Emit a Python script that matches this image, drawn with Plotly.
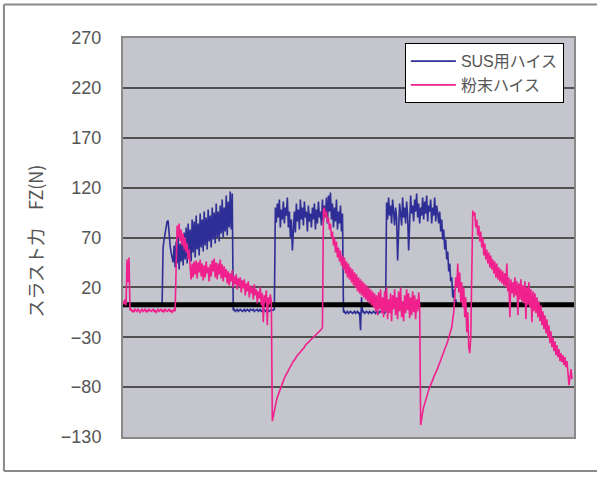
import plotly.graph_objects as go

# Thrust force FZ (N); one sample per time step
sus_values = [
    1, 2, 1, 2, 1, 2, 1, 2, 1, 2,
    2, 1, 2, 1, 2, 1, 2, 1, 2, 1,
    1, 2, 1, 2, 1, 2, 1, 2, 1, 2,
    2, 1, 2, 1, 2, 1, 2, 1, 2, 1,
    60, 68, 75, 80, 86, 87, 72, 62, 55, 50,
    45, 62, 40, 66, 44, 70, 38, 64, 46, 72,
    42, 75, 48, 80, 44, 84, 52, 78, 46, 88,
    55, 86, 50, 92, 58, 84, 52, 94, 60, 88,
    56, 96, 62, 90, 58, 98, 66, 92, 60, 100,
    68, 95, 64, 104, 70, 96, 66, 102, 74, 108,
    70, 100, 76, 112, 72, 106, 80, 116, 78, 114,
    -3, -2, -4, -3, -2, -4, -3, -2, -3, -4,
    -3, -2, -4, -3, -2, -3, -4, -2, -3, -3,
    -2, -4, -3, -3, -2, -4, -3, -2, -4, -3,
    -3, -2, -4, -3, -2, -3, -4, -3, -2, -3,
    -3, -2, 100, 85, 104, 90, 108, 80, 98, 88,
    106, 84, 100, 92, 110, 80, 96, 70, 88, 57,
    80, 96, 75, 104, 86, 98, 78, 108, 88, 100,
    82, 106, 90, 96, 76, 102, 86, 94, 80, 100,
    88, 104, 78, 98, 84, 106, 90, 96, 82, 108,
    86, 102, 92, 110, 84, 112, 96, 115, 88, 104,
    80, 100, 86, 108, 78, 96, 84, 102, 76, 94,
    -5, -4, -6, -5, -4, -6, -5, -4, -5, -6,
    -5, -4, -6, -5, -4, -6, -5, -23, 10, -5,
    -4, -6, -5, -4, -5, -6, -4, -5, -6, -5,
    -4, -5, -6, -4, -5, -6, -4, -5, -5, -4,
    -5, -6, -4, 105, 88, 110, 92, 102, 84, 108,
    96, 82, 100, 90, 47, 86, 104, 94, 82, 110,
    90, 100, 84, 106, 92, 57, 88, 112, 94, 102,
    86, 108, 96, 114, 90, 104, 84, 100, 92, 110,
    88, 106, 94, 112, 86, 102, 96, 108, 84, 100,
    92, 110, 86, 102, 94, 84, 96, 76, 88, 68,
    78, 58, 68, 48, 56, 36, 44, 26, 30, 10,
    18, 4, 8, 2, 2, 2, 2, 2, 2, 2,
    2, 2, 2, 2, 2, 2, 2, 2, 2, 2,
    2, 2, 2, 2, 2, 2, 2, 2, 2, 2,
    2, 2, 2, 2, 2, 2, 2, 2, 2, 2,
    2, 2, 2, 2, 2, 2, 2, 2, 2, 2,
    2, 2, 2, 2, 2, 2, 2, 2, 2, 2,
    2, 2, 2, 2, 2, 2, 2, 2, 2, 2,
    2, 2, 2, 2, 2, 2, 2, 2, 2, 2,
    2, 2, 2, 2, 2, 2, 2, 2, 2, 2,
    2, 2, 2, 2, 2, 2, 2, 2, 2, 2,
    2, 2, 2, 2, 2, 2, 2, 2, 2, 2,
    2, 2, 2, 2, 2, 2, 2, 2, 2,
]

powder_values = [
    6, 3, 8, 2, 48, 25, 50, -3, -2, -4,
    -3, -5, -2, -3, -4, -2, -3, -5, -3, -2,
    -4, -3, -2, -5, -3, -4, -2, -3, -4, -3,
    -2, -4, -3, -5, -3, -2, -4, -3, -2, -4,
    -3, -5, -2, -3, -4, -3, -2, -4, -3, -5,
    -3, -2, -4, 60, 82, 70, 84, 66, 78, 62,
    74, 58, 70, 55, 64, 48, 58, 40, 28, 44,
    30, 46, 33, 47, 29, 45, 35, 48, 31, 44,
    27, 42, 30, 46, 34, 40, 26, 43, 31, 47,
    36, 49, 30, 45, 28, 44, 33, 48, 29, 43,
    26, 41, 30, 38, 24, 36, 22, 34, 26, 37,
    20, 31, 23, 33, 18, 29, 21, 30, 15, 27,
    19, 28, 12, 24, 16, 26, 10, 22, 14, 20,
    8, 23, 12, 18, 4, 16, 9, 20, 2, 14,
    -15, 12, 5, 17, -18, 10, 3, 13, 6, -114,
    -108, -103, -98, -94, -90, -87, -84, -81, -78, -76,
    -73, -71, -69, -67, -65, -63, -61, -59, -58, -56,
    -54, -53, -51, -50, -48, -47, -46, -44, -43, -42,
    -41, -40, -38, -37, -36, -35, -34, -33, -32, -31,
    -30, -29, -28, -27, -26, -25, -24, -23, -22, -20,
    97, 100, 90, 96, 85, 90, 78, 84, 70, 76,
    62, 70, 55, 66, 50, 60, 46, 57, 42, 52,
    38, 50, 34, 46, 30, 44, 28, 40, 25, 38,
    22, 35, 20, 33, 16, 30, 14, 28, 12, 26,
    10, 24, 8, 22, 6, 20, 4, 18, 2, 16,
    0, 14, -4, 12, -8, 15, -2, 18, -6, 10,
    -10, 16, -4, 20, -12, 8, -6, 14, -14, 12,
    -2, 18, -8, 10, -12, 16, -4, 20, -10, 6,
    -14, 12, -6, 18, -3, 14, -11, 10, -8, 16,
    -5, 12, -12, 8, -4, 15, 2, -118, -110, -105,
    -100, -96, -92, -89, -86, -83, -80, -78, -75, -73,
    -70, -68, -66, -63, -61, -58, -56, -53, -50, -48,
    -45, -42, -40, -37, -34, -30, -27, -23, -20, -12,
    -5, 10, 30, 20, 44, 15, 35, 5, 25, 0,
    20, -10, 10, -25, -5, -40, -46, -30, 60, 97,
    92, 95, 80, 88, 72, 82, 66, 76, 60, 70,
    52, 64, 48, 58, 44, 55, 40, 52, 38, 48,
    34, 46, 30, 44, 28, 40, 26, 38, 24, 36,
    22, 34, 20, 44, 16, 30, -10, 28, 14, 25,
    10, 30, 12, 26, -8, 24, 8, 28, 6, 22,
    4, 26, -12, 20, 2, 25, 0, 18, -15, 16,
    -4, 14, -6, 10, -10, 6, -14, 2, -18, -4,
    -22, -8, -26, -12, -30, -18, -36, -24, -40, -30,
    -44, -34, -48, -38, -50, -42, -54, -46, -55, -48,
    -58, -50, -60, -54, -66, -78, -70, -62, -72,
]

series_names = ["SUS用ハイス", "粉末ハイス"]
y_tick_values = [-130, -80, -30, 20, 70, 120, 170, 220, 270]
baseline_value = 2.5
x_extent = [0, 450]

sus_x = list(range(len(sus_values)))
powder_x = list(range(len(powder_values)))

font_family = "Liberation Sans, Arial, Noto Sans CJK JP"
text_color = "#555555"

fig = go.Figure()
fig.add_trace(go.Scatter(
    x=sus_x, y=sus_values, mode="lines", name=series_names[0],
    line=dict(color="#2e2e96", width=1.6),
))
fig.add_trace(go.Scatter(
    x=x_extent, y=[baseline_value, baseline_value], mode="lines",
    line=dict(color="#000000", width=5), showlegend=False, hoverinfo="skip",
))
fig.add_trace(go.Scatter(
    x=powder_x, y=powder_values, mode="lines", name=series_names[1],
    line=dict(color="#f0208c", width=1.6),
))

fig.update_layout(
    width=597, height=477,
    margin=dict(l=123, r=23, t=38, b=40),
    paper_bgcolor="white",
    plot_bgcolor="#c4c5cd",
    font=dict(family=font_family, color=text_color),
    showlegend=True,
    legend=dict(
        x=0.625, y=0.987, xanchor="left", yanchor="top",
        bgcolor="white", bordercolor="#000000", borderwidth=1,
        font=dict(size=16, color=text_color), itemwidth=45,
        tracegroupgap=0,
    ),
    xaxis=dict(
        range=x_extent, showgrid=False, zeroline=False, showticklabels=False,
        ticks="", showline=True, linecolor="#8a8a8a", linewidth=2, mirror=True,
    ),
    yaxis=dict(
        range=[-130, 270], tickvals=y_tick_values, showgrid=True,
        gridcolor="#505050", gridwidth=1.5, zeroline=False,
        showline=True, linecolor="#8a8a8a", linewidth=2, mirror=True,
        ticks="", ticklabelstandoff=16,
        tickfont=dict(size=18, color=text_color, family=font_family),
    ),
    annotations=[dict(
        text="スラスト力　FZ(N)", textangle=-90, xref="paper", yref="paper",
        x=-0.195, y=0.49, xanchor="center", yanchor="middle", showarrow=False,
        font=dict(size=18, color=text_color, family="Noto Sans CJK JP"),
    )],
    shapes=[
        dict(type="line", xref="paper", yref="paper", x0=-0.264, x1=-0.264,
             y0=-0.085, y1=1.084, line=dict(color="#8a8a8a", width=2)),
        dict(type="line", xref="paper", yref="paper", x0=-0.264, x1=1.051,
             y0=1.084, y1=1.084, line=dict(color="#8a8a8a", width=2)),
        dict(type="line", xref="paper", yref="paper", x0=-0.264, x1=1.051,
             y0=-0.085, y1=-0.085, line=dict(color="#8a8a8a", width=2)),
    ],
)

fig.write_html("out.html", config={"displayModeBar": False},
               post_script="document.body.style.margin='0';")
